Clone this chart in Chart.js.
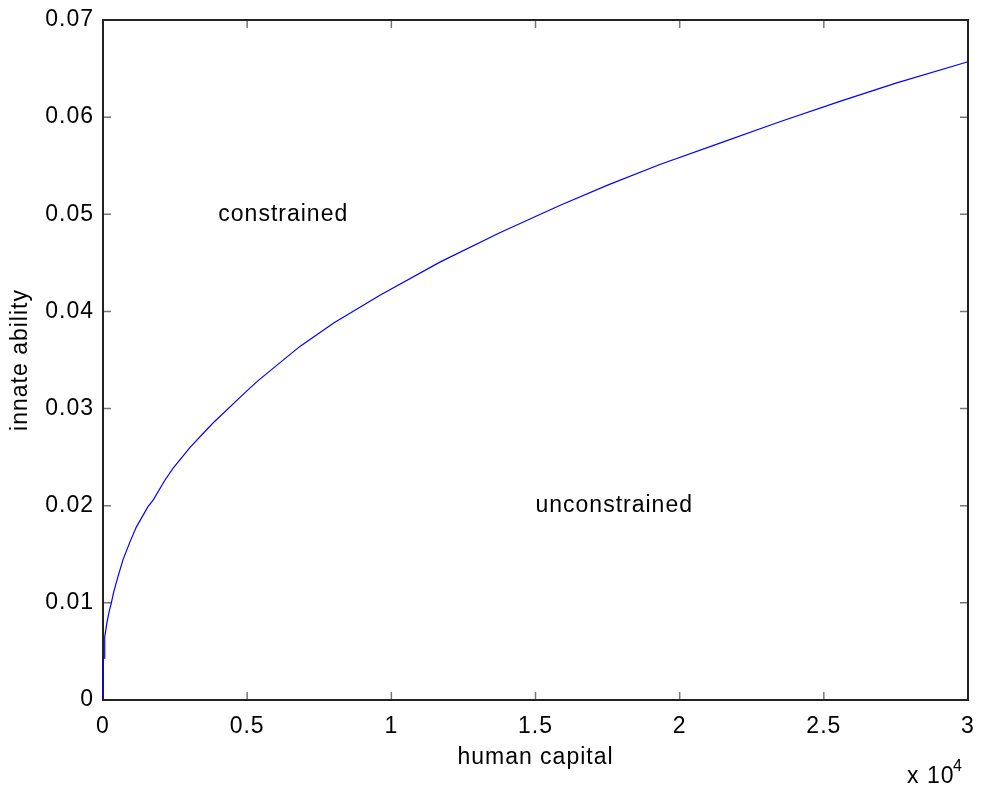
<!DOCTYPE html>
<html>
<head>
<meta charset="utf-8">
<script src="https://cdn.jsdelivr.net/npm/chart.js@4.4.0/dist/chart.umd.min.js"></script>
<style>
  body { margin: 0; background: #fff; }
  #wrap { width: 982px; height: 788px; }
</style>
</head>
<body>
<div id="wrap"><canvas id="ability_chart" width="982" height="788"></canvas></div>
<script>
// human capital (x) vs innate ability threshold (y)
const capital = [0, 0, 60, 60, 150, 230, 290, 370, 520, 690, 925, 1155, 1560, 1745, 2140, 2440,
  3020, 3650, 3880, 4980, 5390, 6830, 8000, 9620, 11700, 13760, 15840, 17500, 19290, 21370, 23450,
  25530, 27500, 30000];
const ability = [0, 0.0043, 0.0043, 0.0065, 0.0082, 0.0093, 0.0100, 0.0111, 0.0127, 0.0144, 0.0162,
  0.0178, 0.0199, 0.0206, 0.0226, 0.0239, 0.0260, 0.0280, 0.0287, 0.0318, 0.0329, 0.0364, 0.0388,
  0.0417, 0.0451, 0.0481, 0.0509, 0.0530, 0.0551, 0.0573, 0.0595, 0.0616, 0.0635, 0.0657];

const xTicks = [0, 5000, 10000, 15000, 20000, 25000, 30000];
const yTicks = [0, 0.01, 0.02, 0.03, 0.04, 0.05, 0.06, 0.07];

const regionLabels = [
  { text: 'constrained', x: 4000, y: 0.05 },
  { text: 'unconstrained', x: 15000, y: 0.02 }
];

const FAMILY = '"Liberation Sans", Arial, sans-serif';
const FONT = '23px ' + FAMILY;

const matlabBox = {
  id: 'matlabBox',
  beforeDraw(chart) {
    chart.ctx.letterSpacing = '1px';
  },
  beforeDatasetsDraw(chart) {
    const ctx = chart.ctx;
    const a = chart.chartArea;
    const xs = chart.scales.x, ys = chart.scales.y;
    ctx.save();
    // inward ticks on all four sides
    ctx.strokeStyle = '#777';
    ctx.lineWidth = 1.5;
    ctx.beginPath();
    xTicks.forEach(v => {
      const px = xs.getPixelForValue(v);
      ctx.moveTo(px, a.bottom); ctx.lineTo(px, a.bottom - 8);
      ctx.moveTo(px, a.top); ctx.lineTo(px, a.top + 8);
    });
    yTicks.forEach(v => {
      const py = ys.getPixelForValue(v);
      ctx.moveTo(a.left, py); ctx.lineTo(a.left + 8, py);
      ctx.moveTo(a.right, py); ctx.lineTo(a.right - 8, py);
    });
    ctx.stroke();
    // frame
    ctx.strokeStyle = '#222';
    ctx.lineWidth = 2;
    ctx.strokeRect(a.left, a.top, a.right - a.left, a.bottom - a.top);
    ctx.restore();
  },
  afterDraw(chart) {
    const ctx = chart.ctx;
    const a = chart.chartArea;
    const xs = chart.scales.x, ys = chart.scales.y;
    ctx.save();
    ctx.letterSpacing = '1px';
    ctx.fillStyle = '#000';
    ctx.font = FONT;

    // region labels
    ctx.textAlign = 'left';
    ctx.textBaseline = 'middle';
    regionLabels.forEach(l => {
      ctx.fillText(l.text, xs.getPixelForValue(l.x), ys.getPixelForValue(l.y));
    });

    // axis titles
    ctx.textAlign = 'center';
    ctx.fillText('human capital', (a.left + a.right) / 2, 758);

    ctx.save();
    ctx.translate(21, (a.top + a.bottom) / 2);
    ctx.rotate(-Math.PI / 2);
    ctx.fillText('innate ability', 0, 0);
    ctx.restore();

    // exponent
    ctx.textAlign = 'left';
    ctx.textBaseline = 'alphabetic';
    ctx.fillText('x 10', 907, 783);
    ctx.font = '16px ' + FAMILY;
    ctx.fillText('4', 953, 771);
    ctx.restore();
  }
};

new Chart(document.getElementById('ability_chart'), {
  type: 'scatter',
  data: {
    datasets: [{
      label: 'threshold',
      data: capital.map((c, i) => ({ x: c, y: ability[i] })),
      showLine: true,
      borderColor: '#0000ff',
      backgroundColor: '#0000ff',
      borderWidth: 1.2,
      pointRadius: 0,
      tension: 0,
      clip: 4
    }]
  },
  options: {
    responsive: false,
    animation: false,
    layout: { padding: { top: 20, right: 14, left: 0, bottom: 0 } },
    plugins: { legend: { display: false }, tooltip: { enabled: false } },
    scales: {
      x: {
        type: 'linear',
        min: 0,
        max: 30000,
        afterBuildTicks: s => { s.ticks = xTicks.map(v => ({ value: v })); },
        afterFit: s => { s.height = 88; s.paddingLeft = 0; s.paddingRight = 0; },
        grid: { display: false },
        border: { display: false },
        ticks: {
          color: '#000',
          font: { family: FAMILY, size: 23 },
          padding: 5,
          maxRotation: 0,
          callback: v => String(v / 10000)
        }
      },
      y: {
        type: 'linear',
        min: 0,
        max: 0.07,
        afterBuildTicks: s => { s.ticks = yTicks.map(v => ({ value: v })); },
        afterFit: s => { s.width = 103; s.paddingTop = 0; s.paddingBottom = 0; },
        grid: { display: false },
        border: { display: false },
        ticks: {
          color: '#000',
          font: { family: FAMILY, size: 23 },
          padding: 1,
          callback: v => v === 0 ? '0' : v.toFixed(2)
        }
      }
    }
  },
  plugins: [matlabBox]
});
</script>
</body>
</html>
